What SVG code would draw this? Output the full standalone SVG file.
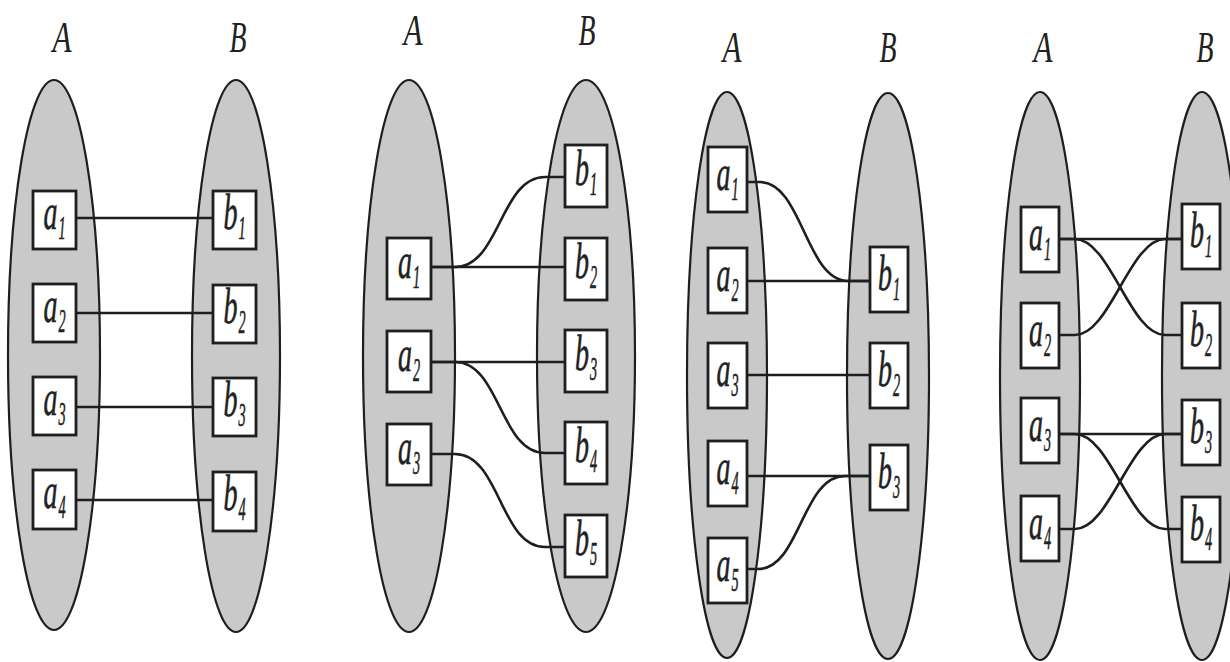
<svg xmlns="http://www.w3.org/2000/svg" width="1230" height="662" viewBox="0 0 1230 662">
<style>
.set{fill:#c9c9c9;stroke:#1e1e1e;stroke-width:2.2}
.box{fill:#fff;stroke:#1e1e1e;stroke-width:2.8}
.ln{fill:none;stroke:#1e1e1e;stroke-width:2.6}
.hd{font-family:"Liberation Serif",serif;font-style:italic;font-size:44px;fill:#222}
.t{font-family:"Liberation Serif",serif;font-style:italic;font-size:51px;fill:#222;stroke:#222;stroke-width:0.6}
.s{font-family:"Liberation Serif",serif;font-style:italic;font-size:34px;fill:#222;stroke:#222;stroke-width:0.6}
</style>
<rect width="1230" height="662" fill="#fff"/>
<g id="p1-A"><ellipse class="set" cx="54" cy="355" rx="46" ry="275"/><text class="hd" text-anchor="middle" x="62" y="52" textLength="19" lengthAdjust="spacingAndGlyphs">A</text></g>
<g id="p1-B"><ellipse class="set" cx="236" cy="356" rx="44" ry="276"/><text class="hd" text-anchor="middle" x="238" y="52" textLength="17" lengthAdjust="spacingAndGlyphs">B</text></g>
<g id="p2-A"><ellipse class="set" cx="409" cy="356" rx="46" ry="276"/><text class="hd" text-anchor="middle" x="413" y="45" textLength="19" lengthAdjust="spacingAndGlyphs">A</text></g>
<g id="p2-B"><ellipse class="set" cx="586" cy="356" rx="49" ry="276"/><text class="hd" text-anchor="middle" x="587" y="45" textLength="17" lengthAdjust="spacingAndGlyphs">B</text></g>
<g id="p3-A"><ellipse class="set" cx="727" cy="375" rx="40" ry="283"/><text class="hd" text-anchor="middle" x="732" y="62" textLength="19" lengthAdjust="spacingAndGlyphs">A</text></g>
<g id="p3-B"><ellipse class="set" cx="888" cy="376" rx="41" ry="283"/><text class="hd" text-anchor="middle" x="888" y="62" textLength="17" lengthAdjust="spacingAndGlyphs">B</text></g>
<g id="p4-A"><ellipse class="set" cx="1040" cy="376" rx="40" ry="284"/><text class="hd" text-anchor="middle" x="1043" y="62" textLength="19" lengthAdjust="spacingAndGlyphs">A</text></g>
<g id="p4-B"><ellipse class="set" cx="1202" cy="376" rx="40" ry="284"/><text class="hd" text-anchor="middle" x="1205" y="62" textLength="17" lengthAdjust="spacingAndGlyphs">B</text></g>

<g id="connectors" class="ln">
<path d="M76,218 H213"/>
<path d="M76,313 H213"/>
<path d="M76,407 H213"/>
<path d="M76,500 H213"/>
<path d="M431,267 H565"/>
<path d="M431,267 H455 C500,267 500,177 545,177 H565"/>
<path d="M431,362 H565"/>
<path d="M431,362 H455 C500,362 500,453 545,453 H565"/>
<path d="M431,454 H455 C500,454 500,547 545,547 H565"/>
<path d="M747,182 H760 C802,182 806,281 848,281 H870"/>
<path d="M747,281 H870"/>
<path d="M747,375 H870"/>
<path d="M747,476 H870"/>
<path d="M747,569 H758 C800,569 802,476 845,476 H870"/>
<path d="M1059,239 H1182"/>
<path d="M1059,239 H1075 C1110,239 1130,335 1165,335 H1182"/>
<path d="M1059,335 H1075 C1110,335 1130,239 1165,239 H1182"/>
<path d="M1059,434 H1182"/>
<path d="M1059,434 H1075 C1110,434 1130,529 1165,529 H1182"/>
<path d="M1059,529 H1075 C1110,529 1130,434 1165,434 H1182"/>
</g>

<g id="p1-a1"><rect class="box" x="33" y="191" width="43" height="58"/><text class="t" text-anchor="end" transform="translate(57.5,229) scale(0.55,1)">a</text><text class="s" transform="translate(58.5,239) scale(0.42,1)">1</text></g>
<g id="p1-a2"><rect class="box" x="33" y="284" width="43" height="58"/><text class="t" text-anchor="end" transform="translate(57.5,322) scale(0.55,1)">a</text><text class="s" transform="translate(58.5,332) scale(0.42,1)">2</text></g>
<g id="p1-a3"><rect class="box" x="33" y="377" width="43" height="58"/><text class="t" text-anchor="end" transform="translate(57.5,415) scale(0.55,1)">a</text><text class="s" transform="translate(58.5,425) scale(0.42,1)">3</text></g>
<g id="p1-a4"><rect class="box" x="33" y="470" width="43" height="59"/><text class="t" text-anchor="end" transform="translate(57.5,508) scale(0.55,1)">a</text><text class="s" transform="translate(58.5,518) scale(0.42,1)">4</text></g>
<g id="p1-b1"><rect class="box" x="213" y="191" width="43" height="58"/><text class="t" text-anchor="end" transform="translate(237.5,229) scale(0.55,1)">b</text><text class="s" transform="translate(238.5,239) scale(0.42,1)">1</text></g>
<g id="p1-b2"><rect class="box" x="213" y="285" width="43" height="58"/><text class="t" text-anchor="end" transform="translate(237.5,323) scale(0.55,1)">b</text><text class="s" transform="translate(238.5,333) scale(0.42,1)">2</text></g>
<g id="p1-b3"><rect class="box" x="213" y="378" width="43" height="58"/><text class="t" text-anchor="end" transform="translate(237.5,416) scale(0.55,1)">b</text><text class="s" transform="translate(238.5,426) scale(0.42,1)">3</text></g>
<g id="p1-b4"><rect class="box" x="213" y="472" width="43" height="59"/><text class="t" text-anchor="end" transform="translate(237.5,510) scale(0.55,1)">b</text><text class="s" transform="translate(238.5,520) scale(0.42,1)">4</text></g>

<g id="p2-a1"><rect class="box" x="387" y="238" width="44" height="61"/><text class="t" text-anchor="end" transform="translate(412,278) scale(0.55,1)">a</text><text class="s" transform="translate(413,288) scale(0.42,1)">1</text></g>
<g id="p2-a2"><rect class="box" x="387" y="331" width="44" height="61"/><text class="t" text-anchor="end" transform="translate(412,371) scale(0.55,1)">a</text><text class="s" transform="translate(413,381) scale(0.42,1)">2</text></g>
<g id="p2-a3"><rect class="box" x="387" y="424" width="44" height="61"/><text class="t" text-anchor="end" transform="translate(412,464) scale(0.55,1)">a</text><text class="s" transform="translate(413,474) scale(0.42,1)">3</text></g>
<g id="p2-b1"><rect class="box" x="565" y="145" width="42" height="62"/><text class="t" text-anchor="end" transform="translate(589,185) scale(0.55,1)">b</text><text class="s" transform="translate(590,195) scale(0.42,1)">1</text></g>
<g id="p2-b2"><rect class="box" x="565" y="238" width="42" height="62"/><text class="t" text-anchor="end" transform="translate(589,278) scale(0.55,1)">b</text><text class="s" transform="translate(590,288) scale(0.42,1)">2</text></g>
<g id="p2-b3"><rect class="box" x="565" y="330" width="42" height="62"/><text class="t" text-anchor="end" transform="translate(589,370) scale(0.55,1)">b</text><text class="s" transform="translate(590,380) scale(0.42,1)">3</text></g>
<g id="p2-b4"><rect class="box" x="565" y="422" width="42" height="62"/><text class="t" text-anchor="end" transform="translate(589,462) scale(0.55,1)">b</text><text class="s" transform="translate(590,472) scale(0.42,1)">4</text></g>
<g id="p2-b5"><rect class="box" x="565" y="515" width="42" height="62"/><text class="t" text-anchor="end" transform="translate(589,555) scale(0.55,1)">b</text><text class="s" transform="translate(590,565) scale(0.42,1)">5</text></g>

<g id="p3-a1"><rect class="box" x="708" y="147" width="39" height="65"/><text class="t" text-anchor="end" transform="translate(730.5,190) scale(0.55,1)">a</text><text class="s" transform="translate(731.5,200) scale(0.42,1)">1</text></g>
<g id="p3-a2"><rect class="box" x="708" y="248" width="39" height="65"/><text class="t" text-anchor="end" transform="translate(730.5,291) scale(0.55,1)">a</text><text class="s" transform="translate(731.5,301) scale(0.42,1)">2</text></g>
<g id="p3-a3"><rect class="box" x="708" y="343" width="39" height="65"/><text class="t" text-anchor="end" transform="translate(730.5,386) scale(0.55,1)">a</text><text class="s" transform="translate(731.5,396) scale(0.42,1)">3</text></g>
<g id="p3-a4"><rect class="box" x="708" y="441" width="39" height="65"/><text class="t" text-anchor="end" transform="translate(730.5,484) scale(0.55,1)">a</text><text class="s" transform="translate(731.5,494) scale(0.42,1)">4</text></g>
<g id="p3-a5"><rect class="box" x="708" y="538" width="39" height="65"/><text class="t" text-anchor="end" transform="translate(730.5,581) scale(0.55,1)">a</text><text class="s" transform="translate(731.5,591) scale(0.42,1)">5</text></g>
<g id="p3-b1"><rect class="box" x="870" y="247" width="38" height="65"/><text class="t" text-anchor="end" transform="translate(892,290) scale(0.55,1)">b</text><text class="s" transform="translate(893,300) scale(0.42,1)">1</text></g>
<g id="p3-b2"><rect class="box" x="870" y="343" width="38" height="65"/><text class="t" text-anchor="end" transform="translate(892,386) scale(0.55,1)">b</text><text class="s" transform="translate(893,396) scale(0.42,1)">2</text></g>
<g id="p3-b3"><rect class="box" x="870" y="445" width="38" height="65"/><text class="t" text-anchor="end" transform="translate(892,488) scale(0.55,1)">b</text><text class="s" transform="translate(893,498) scale(0.42,1)">3</text></g>

<g id="p4-a1"><rect class="box" x="1021" y="207" width="38" height="65"/><text class="t" text-anchor="end" transform="translate(1043,250) scale(0.55,1)">a</text><text class="s" transform="translate(1044,260) scale(0.42,1)">1</text></g>
<g id="p4-a2"><rect class="box" x="1021" y="303" width="38" height="65"/><text class="t" text-anchor="end" transform="translate(1043,346) scale(0.55,1)">a</text><text class="s" transform="translate(1044,356) scale(0.42,1)">2</text></g>
<g id="p4-a3"><rect class="box" x="1021" y="398" width="38" height="65"/><text class="t" text-anchor="end" transform="translate(1043,441) scale(0.55,1)">a</text><text class="s" transform="translate(1044,451) scale(0.42,1)">3</text></g>
<g id="p4-a4"><rect class="box" x="1021" y="496" width="38" height="65"/><text class="t" text-anchor="end" transform="translate(1043,539) scale(0.55,1)">a</text><text class="s" transform="translate(1044,549) scale(0.42,1)">4</text></g>
<g id="p4-b1"><rect class="box" x="1182" y="204" width="38" height="65"/><text class="t" text-anchor="end" transform="translate(1204,247) scale(0.55,1)">b</text><text class="s" transform="translate(1205,257) scale(0.42,1)">1</text></g>
<g id="p4-b2"><rect class="box" x="1182" y="303" width="38" height="65"/><text class="t" text-anchor="end" transform="translate(1204,346) scale(0.55,1)">b</text><text class="s" transform="translate(1205,356) scale(0.42,1)">2</text></g>
<g id="p4-b3"><rect class="box" x="1182" y="400" width="38" height="65"/><text class="t" text-anchor="end" transform="translate(1204,443) scale(0.55,1)">b</text><text class="s" transform="translate(1205,453) scale(0.42,1)">3</text></g>
<g id="p4-b4"><rect class="box" x="1182" y="497" width="38" height="65"/><text class="t" text-anchor="end" transform="translate(1204,540) scale(0.55,1)">b</text><text class="s" transform="translate(1205,550) scale(0.42,1)">4</text></g>
</svg>
